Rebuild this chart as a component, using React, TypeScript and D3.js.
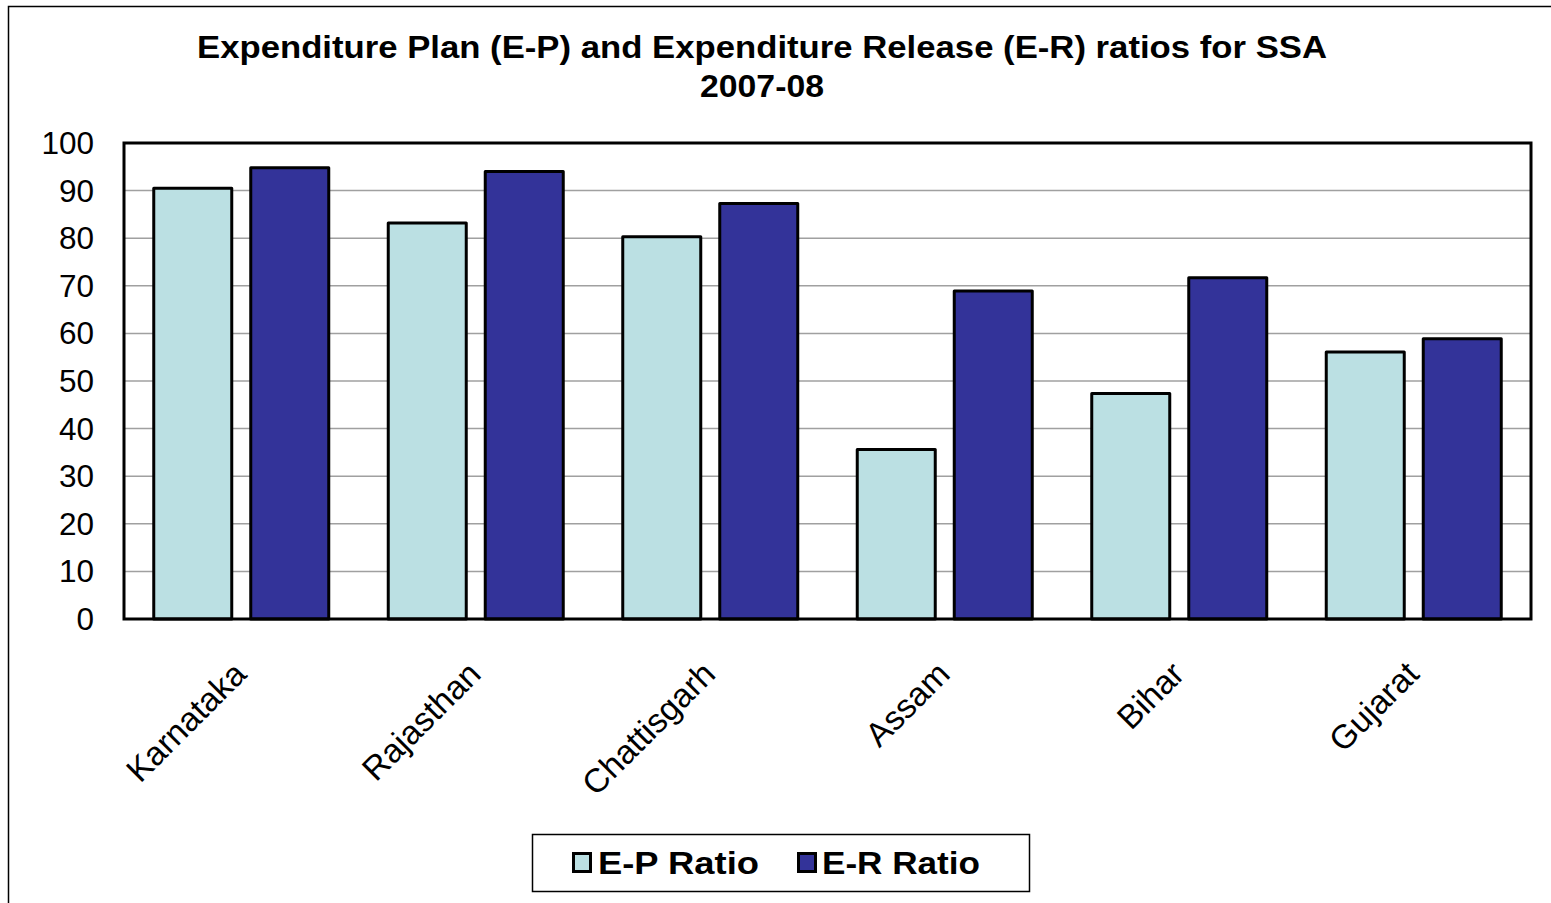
import React from "react";
import * as d3 from "d3";

const categories = ["Karnataka", "Rajasthan", "Chattisgarh", "Assam", "Bihar", "Gujarat"];
const epRatio = [90.5, 83.2, 80.3, 35.6, 47.4, 56.1];
const erRatio = [94.8, 94.0, 87.3, 68.9, 71.7, 58.9];
const seriesNames = ["E-P Ratio", "E-R Ratio"];
const seriesColors = ["#BBE0E3", "#333399"];
const yTicks = [0, 10, 20, 30, 40, 50, 60, 70, 80, 90, 100];
const titleLines = ["Expenditure Plan (E-P) and Expenditure Release (E-R) ratios for SSA", "2007-08"];

const W = 1551;
const H = 903;
const FONT = "Arial, 'Liberation Sans', sans-serif";

export default function App() {
  const left = 124, right = 1531, top = 143, bottom = 619;
  const x = d3.scaleBand<string>().domain(categories).range([left, right]).paddingInner(0).paddingOuter(0);
  const y = d3.scaleLinear().domain([0, 100]).range([bottom, top]);
  const bw = 78;
  const gap = 19;
  const series = [epRatio, erRatio];
  const titleLen = [1130, 124];
  const legendX = [573.5, 798.5];
  const legendTextX = [598, 822];
  const legendTextLen = [161, 158];

  return (
    <svg width={W} height={H} style={{ position: "absolute", left: 0, top: 0, background: "#fff" }}>
      <rect x={8.5} y={6.5} width={W} height={H} fill="#fff" stroke="#000" strokeWidth={1.5} />
      {titleLines.map((t, i) => (
        <text
          key={i}
          x={762}
          y={58 + i * 39}
          textAnchor="middle"
          fontFamily={FONT}
          fontWeight="bold"
          fontSize={32}
          textLength={titleLen[i]}
          lengthAdjust="spacingAndGlyphs"
        >
          {t}
        </text>
      ))}
      {yTicks.map((t) => (
        <g key={t}>
          {t > 0 && t < 100 && (
            <line x1={left} x2={right} y1={y(t)} y2={y(t)} stroke="#A0A0A0" strokeWidth={1.5} />
          )}
          <text x={94} y={y(t) + 11} textAnchor="end" fontFamily={FONT} fontSize={31.5}>
            {t}
          </text>
        </g>
      ))}
      {categories.map((c, i) => {
        const cx = (x(c) as number) + x.bandwidth() / 2;
        return (
          <g key={c}>
            {series.map((s, j) => {
              const bx = j === 0 ? cx - gap / 2 - bw : cx + gap / 2;
              return (
                <rect
                  key={j}
                  x={bx}
                  y={y(s[i])}
                  width={bw}
                  height={bottom - y(s[i])}
                  fill={seriesColors[j]}
                  stroke="#000"
                  strokeWidth={3}
                  strokeLinejoin="round"
                />
              );
            })}
            <text
              transform={`translate(${cx + 7},${676}) rotate(-45)`}
              textAnchor="end"
              fontFamily={FONT}
              fontSize={33.5}
            >
              {c}
            </text>
          </g>
        );
      })}
      <rect x={left} y={top} width={right - left} height={bottom - top} fill="none" stroke="#000" strokeWidth={3} />
      <g>
        <rect x={532.5} y={834.5} width={497} height={57} fill="#fff" stroke="#000" strokeWidth={1.5} />
        {seriesNames.map((n, j) => (
          <g key={n}>
            <rect x={legendX[j]} y={853.5} width={17} height={18} fill={seriesColors[j]} stroke="#000" strokeWidth={3} />
            <text
              x={legendTextX[j]}
              y={874}
              fontFamily={FONT}
              fontWeight="bold"
              fontSize={30.5}
              textLength={legendTextLen[j]}
              lengthAdjust="spacingAndGlyphs"
            >
              {n}
            </text>
          </g>
        ))}
      </g>
    </svg>
  );
}
